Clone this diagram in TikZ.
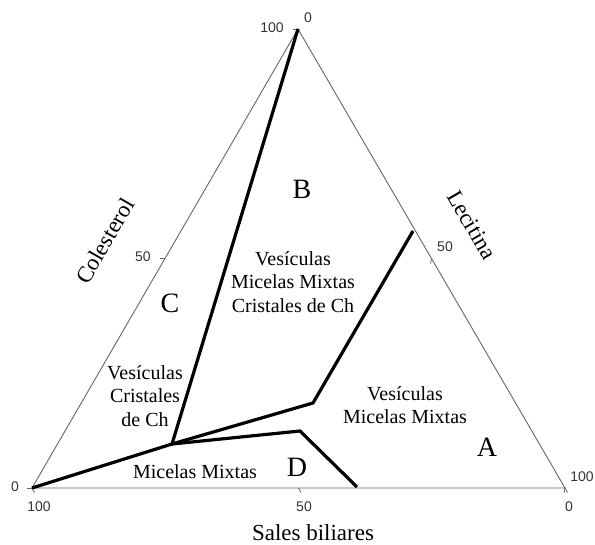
\documentclass[tikz,border=0pt]{standalone}
\usepackage{fontspec}
\setmainfont{Liberation Serif}
\newfontfamily\numfont{Liberation Sans}
\begin{document}
\begin{tikzpicture}[x=1pt,y=-1pt,
  edge/.style={draw=black!60, line width=0.9pt},
  bound/.style={draw=black, line width=3.2pt, line join=round},
  tickmark/.style={draw=black!60, line width=0.8pt},
  num/.style={font=\numfont\fontsize{14}{16}\selectfont, text=black!80, inner sep=0pt},
  region/.style={font=\fontsize{20}{23.5}\selectfont, align=center, inner sep=0pt},
  letter/.style={font=\fontsize{28}{30}\selectfont, inner sep=0pt},
  axislabel/.style={font=\fontsize{23}{26}\selectfont, inner sep=0pt}]
\useasboundingbox (0,0) rectangle (595,545);
% triangle
\coordinate (L) at (32,488);
\coordinate (R) at (565,488);
\coordinate (T) at (298,29);
\coordinate (ML) at (165,258.5);
\coordinate (MB) at (298.5,488);
\coordinate (MR) at (431.5,258.5);
\draw[edge] (L) -- (R) -- (T) -- cycle;
% ticks
\foreach \p in {T,ML,L} \draw[tickmark] (\p) -- ++(-5,0);
\foreach \p in {L,MB,R} \draw[tickmark] (\p) -- ++(2.5,4.5);
\foreach \p in {R,MR,T} \draw[tickmark] (\p) -- ++(-1,5);
% tick numbers
\node[num] (n1) at (272,28) {100};
\node[num] (n2) at (308,18) {0};
\node[num] (n3) at (143,257) {50};
\node[num] (n4) at (445,247) {50};
\node[num] (n5) at (15,487) {0};
\node[num] (n6) at (39,507) {100};
\node[num] (n7) at (304,507) {50};
\node[num] (n8) at (569,507) {0};
\node[num] (n9) at (582,477) {100};
% boundaries
\coordinate (J) at (172,444);
\coordinate (P1) at (313,403);
\coordinate (P2) at (413,231);
\coordinate (P3) at (300,431);
\coordinate (P4) at (357,487);
\draw[bound] (T) -- (J);
\draw[bound] (L) -- (J) -- (P1) -- (P2);
\draw[bound] (J) -- (P3) -- (P4);
% axis labels
\node[axislabel, rotate=60] (colest) at (105,241) {Colesterol};
\node[axislabel, rotate=-60] (lecit) at (472,225) {Lecitina};
\node[axislabel] (sales) at (313,533) {Sales biliares};
% region letters
\node[letter] (B) at (302,189) {B};
\node[letter] (C) at (170,303) {C};
\node[letter] (D) at (297,467) {D};
\node[letter] (A) at (487,447) {A};
% region texts
\node[region] (tB) at (293,282) {Vesículas\\Micelas Mixtas\\Cristales de Ch};
\node[region] (tC) at (145,396) {Vesículas\\Cristales\\de Ch};
\node[region] (tA) at (405,405) {Vesículas\\Micelas Mixtas};
\node[region] (tD) at (195,472) {Micelas Mixtas};
\end{tikzpicture}
\end{document}
